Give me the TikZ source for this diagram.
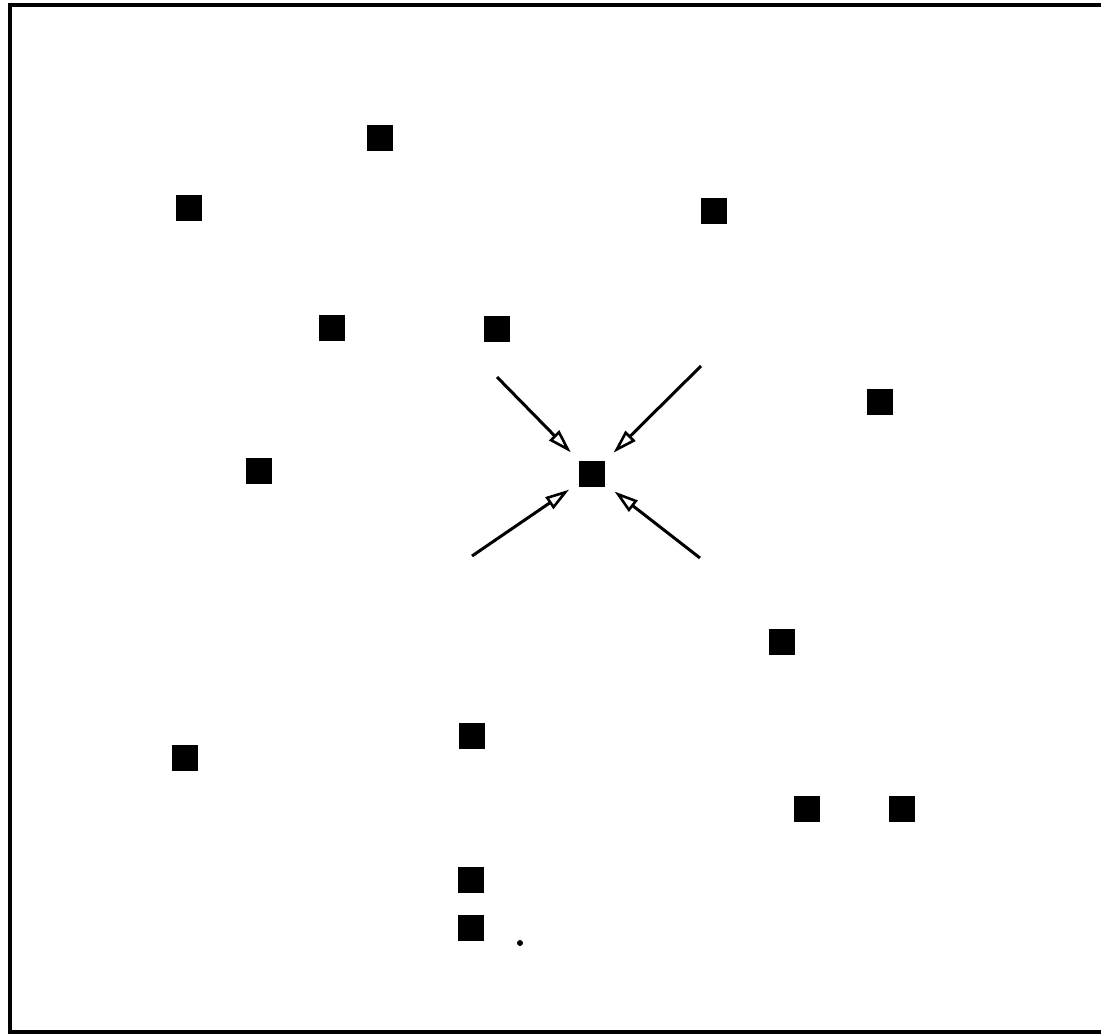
\documentclass[tikz,border=0pt]{standalone}
\usetikzlibrary{arrows.meta}
\begin{document}
\begin{tikzpicture}[x=1pt,y=-1pt,
  blk/.style={fill=black,draw=none,minimum size=26pt,inner sep=0pt,outer sep=0pt},
  inarrow/.style={line width=3pt,-{Triangle[open,length=24pt,width=14pt,line width=2.6pt]},shorten >=12pt}]
\useasboundingbox (0,0) rectangle (1101,1036);
\fill[white] (0,0) rectangle (1101,1036);
% frame (left, top, bottom)
\draw[line width=4pt] (1101,5) -- (10,5) -- (10,1032) -- (1101,1032);
% squares
\node[blk] (s1) at (380,138) {};
\node[blk] (s2) at (189,208) {};
\node[blk] (s3) at (714,211) {};
\node[blk] (s4) at (332,328) {};
\node[blk] (s5) at (497,329) {};
\node[blk] (s6) at (880,402) {};
\node[blk] (s7) at (259,471) {};
\node[blk] (c)  at (592,474) {};
\node[blk] (s9) at (782,642) {};
\node[blk] (s10) at (472,736) {};
\node[blk] (s11) at (185,758) {};
\node[blk] (s12) at (807,809) {};
\node[blk] (s13) at (902,809) {};
\node[blk] (s14) at (471,880) {};
\node[blk] (s15) at (471,928) {};
\fill (520,943) circle (3pt);
% arrow tails
\coordinate (t1) at (497,377);
\coordinate (t2) at (701,366);
\coordinate (t3) at (472,556);
\coordinate (t4) at (700,558);
\draw[inarrow] (t1) -- (c);
\draw[inarrow] (t2) -- (c);
\draw[inarrow] (t3) -- (c);
\draw[inarrow] (t4) -- (c);
\end{tikzpicture}
\end{document}
